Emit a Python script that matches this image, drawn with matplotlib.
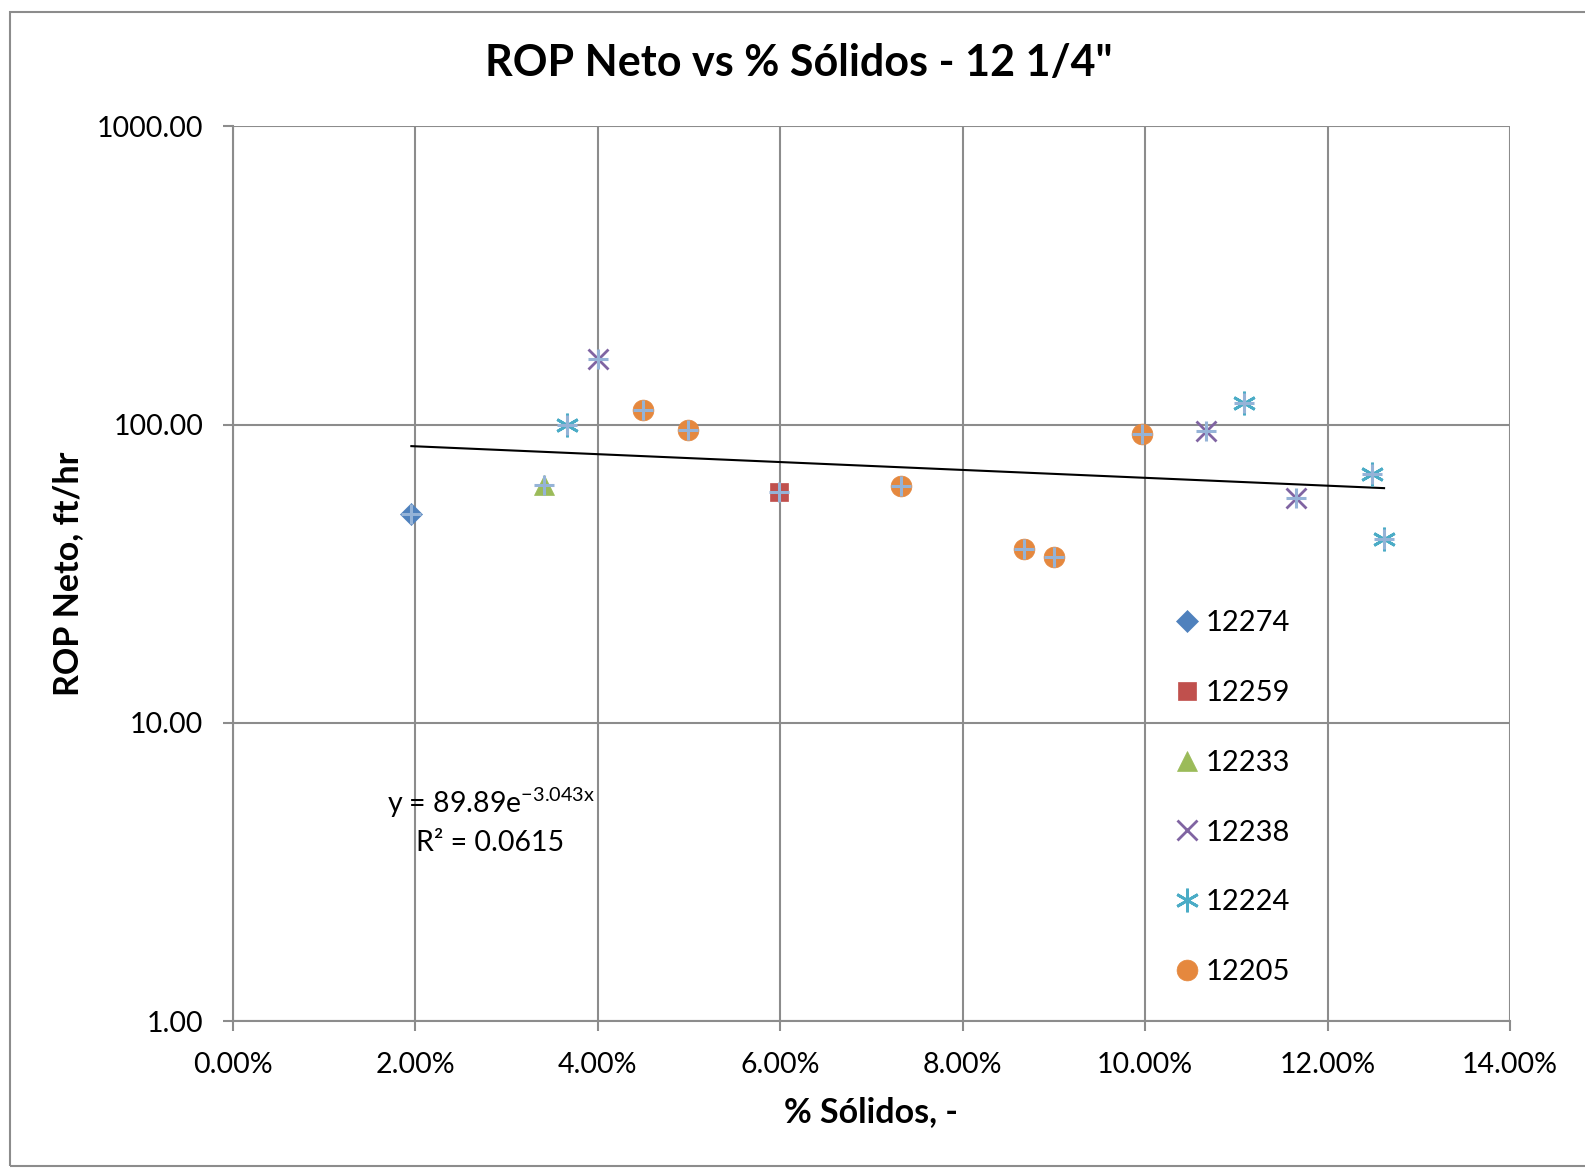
import numpy as np
import matplotlib
matplotlib.use("Agg")
import matplotlib.pyplot as plt
from matplotlib.ticker import FixedLocator, FuncFormatter, NullLocator
from matplotlib.patches import Rectangle

plt.rcParams['font.family'] = ['Lato', 'DejaVu Sans']
plt.rcParams['mathtext.default'] = 'regular'

# ---- data (x as fraction, y in ft/hr) ----
s12274_x = [0.0196]
s12274_y = [50.0]
s12259_x = [0.0599]
s12259_y = [59.3]
s12233_x = [0.0341]
s12233_y = [62.5]
s12238_x = [0.0400, 0.1067, 0.1166]
s12238_y = [166.0, 95.4, 56.6]
s12224_x = [0.0367, 0.1108, 0.1249, 0.1262]
s12224_y = [100.0, 117.8, 68.2, 41.4]
s12205_x = [0.0450, 0.0499, 0.0733, 0.0867, 0.0900, 0.0997]
s12205_y = [111.6, 96.2, 62.1, 38.3, 36.0, 93.2]

trend_a = 89.89
trend_b = -3.043
eq_text = "y = 89.89e$^{-3.043x}$"
r2_text = "R² = 0.0615"

x_ticks = [0.0, 0.02, 0.04, 0.06, 0.08, 0.10, 0.12, 0.14]
y_ticks = [1, 10, 100, 1000]

series = [
    ("12274", s12274_x, s12274_y, "D", "#4F81BD", 11),
    ("12259", s12259_x, s12259_y, "s", "#C0504D", 13),
    ("12233", s12233_x, s12233_y, "^", "#9BBB59", 14),
    ("12238", s12238_x, s12238_y, "x", "#8064A2", 14),
    ("12224", s12224_x, s12224_y, "asterisk", "#4BACC6", 17),
    ("12205", s12205_x, s12205_y, "o", "#E5883E", 15),
]

fig = plt.figure(figsize=(15.85, 11.68), dpi=100)
ax = fig.add_axes([232.5/1585, 1-1021/1168, (1510-232.5)/1585, (1021-126.4)/1168])

ax.set_yscale('log')
ax.set_xlim(0, 0.14)
ax.set_ylim(1, 1000)

grid_c = '#8C8C8C'
ax.xaxis.set_major_locator(FixedLocator(x_ticks))
ax.yaxis.set_major_locator(FixedLocator(y_ticks))
ax.yaxis.set_minor_locator(NullLocator())
ax.xaxis.set_major_formatter(FuncFormatter(lambda v, p: f"{v*100:.2f}%"))
ax.yaxis.set_major_formatter(FuncFormatter(lambda v, p: f"{v:.2f}"))
ax.grid(True, which='major', color=grid_c, linewidth=1.5)
ax.set_axisbelow(True)
for sp in ['top', 'right']:
    ax.spines[sp].set_visible(False)
for sp in ['left', 'bottom']:
    ax.spines[sp].set_color(grid_c)
    ax.spines[sp].set_linewidth(1.5)
ax.tick_params(axis='both', which='major', direction='out', length=7, width=1.5,
               color=grid_c, labelsize=20.5)
ax.tick_params(axis='y', pad=14)
ax.tick_params(axis='x', pad=15)

all_x, all_y = [], []
for name, xs, ys, m, c, ms in series:
    if m == "asterisk":
        mk = (6, 2, 0)
        ax.plot(xs, ys, linestyle='none', marker=mk, markersize=ms, markeredgecolor=c,
                markeredgewidth=2, label=name, zorder=3)
    elif m == "x":
        ax.plot(xs, ys, linestyle='none', marker='x', markersize=ms, markeredgecolor=c,
                markeredgewidth=2, label=name, zorder=3)
    else:
        ax.plot(xs, ys, linestyle='none', marker=m, markersize=ms, markerfacecolor=c,
                markeredgecolor=c, markeredgewidth=0.5, label=name, zorder=3)
    all_x += xs
    all_y += ys

# combined series with '+' markers (not in legend)
ax.plot(all_x, all_y, linestyle='none', marker='+', markersize=14, markeredgecolor='#95B3D7',
        markeredgewidth=2.2, zorder=4)

# trendline
tx = np.linspace(min(all_x), max(all_x), 100)
ax.plot(tx, trend_a*np.exp(trend_b*tx), color='black', linewidth=1.5, zorder=2)

ax.text(0.0283, 5.4, eq_text, fontsize=20.5, ha='center', va='center')
ax.text(0.0282, 3.94, r2_text, fontsize=20.5, ha='center', va='center')

leg = ax.legend(loc='upper left', bbox_to_anchor=(0.731, 0.472), frameon=False, fontsize=21,
                handlelength=0.6, handletextpad=0.35, labelspacing=1.5, borderaxespad=0)

fig.text(799/1585, 1-63/1168, "ROP Neto vs % Sólidos - 12 1/4\"", fontsize=31,
         fontweight='bold', ha='center', va='center')
fig.text(871/1585, 1-1112/1168, "% Sólidos, -", fontsize=24.5, fontweight='bold',
         ha='center', va='center')
fig.text(68/1585, 1-574/1168, "ROP Neto, ft/hr", fontsize=24.5, fontweight='bold',
         ha='center', va='center', rotation=90)

fig.patches.append(Rectangle((10/1585, 1-1166/1168), 1.2, (1166-12)/1168,
                             transform=fig.transFigure, fill=False, edgecolor='#8C8C8C',
                             linewidth=1.5))

fig.savefig("out.png", dpi=100)
